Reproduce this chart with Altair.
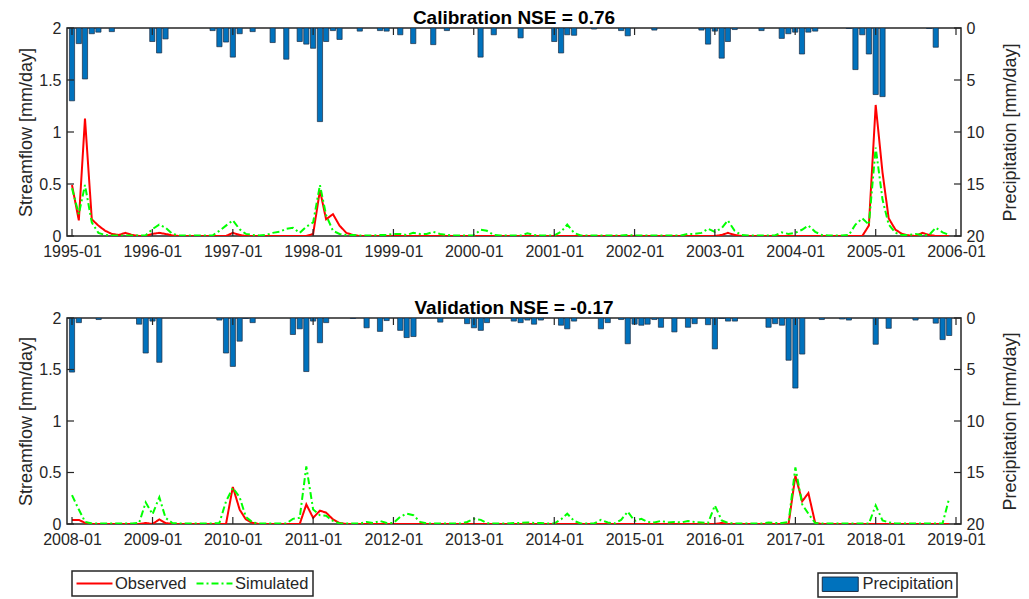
import altair as alt
import pandas as pd

FONT = "Liberation Sans"
TXT = "#262626"

# ---------------- Calibration (1995-01 .. 2005-12), one row per year ----------------
cal_precip = [
    7.0, 1.5, 4.9, 0.55, 0.4, 0, 0.35, 0, 0, 0, 0, 0,
    1.3, 2.4, 1.05, 0, 0, 0, 0, 0, 0, 0.25, 1.8, 1.35,
    2.8, 0.55, 0, 0.35, 0, 0, 1.4, 0, 3.0, 0, 1.3, 1.55,
    1.95, 9.0, 1.3, 0.25, 1.1, 0, 0, 0.3, 0, 0, 0.25, 0.3,
    0, 0.65, 0, 1.5, 0, 0, 1.6, 0, 0.25, 0, 0, 0,
    0, 2.8, 0, 0.65, 0, 0, 0, 0.95, 0, 0, 0, 0,
    1.3, 2.4, 0.65, 0.7, 0, 0, 0.1, 0, 0, 0, 0.25, 0.75,
    0, 0, 0, 0.2, 0, 0, 0, 0, 0, 0, 0.2, 1.55,
    0.3, 2.9, 1.3, 0.15, 0, 0, 0, 0.25, 0, 0, 1.0, 0.55,
    0.4, 2.5, 0.4, 0.3, 0, 0, 0, 0, 0.05, 4.0, 0.65, 2.5,
    6.4, 6.6, 0, 0, 0, 0, 0, 0, 0.05, 1.85, 0, 0,
]
cal_obs = [
    0.49, 0.15, 1.13, 0.16, 0.10, 0.05, 0.02, 0.01, 0.03, 0.01, 0.0, 0.0,
    0.02, 0.03, 0.02, 0.005, 0, 0, 0, 0, 0, 0, 0, 0,
    0.03, 0.01, 0, 0, 0, 0, 0, 0, 0, 0, 0, 0,
    0.02, 0.44, 0.16, 0.21, 0.10, 0.03, 0.01, 0, 0, 0, 0, 0,
    0, 0, 0, 0, 0, 0, 0, 0, 0, 0, 0, 0,
    0, 0, 0, 0, 0, 0, 0, 0, 0, 0, 0, 0,
    0, 0, 0, 0, 0, 0, 0, 0, 0, 0, 0, 0,
    0, 0, 0, 0, 0, 0, 0, 0, 0, 0, 0, 0,
    0, 0.01, 0.03, 0.01, 0, 0, 0, 0, 0, 0, 0, 0,
    0, 0, 0, 0, 0, 0, 0, 0, 0, 0, 0, 0.10,
    1.26, 0.61, 0.17, 0.06, 0.02, 0.005, 0, 0.03, 0.01, 0, 0, 0,
]
cal_sim = [
    0.46, 0.21, 0.49, 0.13, 0.03, 0.01, 0.005, 0.005, 0.005, 0.005, 0.005, 0.005,
    0.065, 0.11, 0.08, 0.02, 0.005, 0.005, 0.005, 0.005, 0.005, 0.005, 0.05, 0.10,
    0.15, 0.065, 0.02, 0.01, 0.005, 0.01, 0.03, 0.04, 0.07, 0.08, 0.03, 0.09,
    0.13, 0.49, 0.20, 0.05, 0.02, 0.01, 0.01, 0.005, 0.005, 0.005, 0.01, 0.01,
    0.02, 0.02, 0.01, 0.03, 0.02, 0.02, 0.04, 0.02, 0.01, 0.005, 0.005, 0.005,
    0.005, 0.06, 0.05, 0.01, 0.005, 0.005, 0.005, 0.005, 0.025, 0.01, 0.005, 0.005,
    0.005, 0.04, 0.11, 0.03, 0.005, 0.005, 0.005, 0.005, 0.005, 0.005, 0.005, 0.01,
    0.005, 0.005, 0.005, 0.005, 0.005, 0.005, 0.005, 0.005, 0.02, 0.02, 0.03, 0.07,
    0.04, 0.075, 0.15, 0.05, 0.01, 0.005, 0.005, 0.005, 0.005, 0.005, 0.035, 0.02,
    0.03, 0.06, 0.10, 0.04, 0.01, 0.005, 0.005, 0.005, 0.01, 0.11, 0.17, 0.11,
    0.85, 0.35, 0.11, 0.03, 0.01, 0.01, 0.02, 0.01, 0.01, 0.08, 0.035, 0.01,
]

# ---------------- Validation (2008-01 .. 2018-12) ----------------
val_precip = [
    5.25, 0.45, 0, 0, 0.15, 0, 0, 0, 0, 0, 0.6, 3.4,
    0.3, 4.3, 0, 0, 0, 0, 0, 0, 0, 0, 0.2, 3.4,
    4.7, 2.25, 0.05, 0.45, 0, 0, 0, 0, 0, 1.6, 1.05, 5.2,
    0.3, 2.4, 0.45, 0, 0, 0, 0.05, 0, 0.95, 0, 1.3, 0.25,
    0, 1.2, 1.9, 1.8, 0, 0, 0, 0.4, 0, 0, 0, 0.55,
    0.95, 1.2, 0.45, 0, 0, 0, 0.3, 0.45, 0.2, 0.6, 0.2, 0,
    0, 0.7, 1.05, 0.3, 0, 0, 0, 1.05, 0.45, 0, 0.15, 2.5,
    0.6, 0.7, 0.6, 0.15, 0.9, 0, 1.35, 0, 0.9, 0.55, 0, 0.65,
    3.0, 0.05, 0.3, 0.3, 0, 0, 0, 0, 0.9, 0.55, 0.7, 4.1,
    6.8, 3.5, 0, 0, 0.15, 0, 0, 0.1, 0.2, 0, 0, 0,
    2.55, 0, 1.0, 0, 0, 0, 0.2, 0, 0, 0.5, 2.1, 1.7,
]
val_obs = [
    0.04, 0.04, 0.01, 0, 0, 0, 0, 0, 0, 0, 0, 0.01,
    0, 0.045, 0.01, 0, 0, 0, 0, 0, 0, 0, 0, 0,
    0.36, 0.14, 0.045, 0.01, 0, 0, 0, 0, 0, 0, 0, 0.19,
    0.06, 0.13, 0.11, 0.045, 0.01, 0, 0, 0, 0, 0, 0, 0,
    0, 0, 0, 0, 0, 0, 0, 0, 0, 0, 0, 0,
    0, 0, 0, 0, 0, 0, 0, 0, 0, 0, 0, 0,
    0, 0, 0, 0, 0, 0, 0, 0, 0, 0, 0, 0,
    0, 0, 0, 0, 0, 0, 0, 0, 0, 0, 0, 0,
    0, 0.01, 0, 0, 0, 0, 0, 0, 0, 0, 0, 0,
    0.47, 0.22, 0.30, 0.01, 0, 0, 0, 0, 0, 0, 0, 0,
    0, 0, 0, 0, 0, 0, 0, 0, 0, 0, 0, 0,
]
val_sim = [
    0.28, 0.14, 0.02, 0.005, 0.005, 0.005, 0.005, 0.005, 0.005, 0.005, 0.01, 0.21,
    0.095, 0.26, 0.06, 0.01, 0.005, 0.005, 0.005, 0.005, 0.005, 0.005, 0.01, 0.22,
    0.35, 0.26, 0.07, 0.015, 0.005, 0.005, 0.005, 0.005, 0.005, 0.05, 0.06, 0.56,
    0.14, 0.085, 0.08, 0.03, 0.005, 0.005, 0.005, 0.005, 0.02, 0.01, 0.03, 0.01,
    0.01, 0.07, 0.10, 0.085, 0.02, 0.005, 0.005, 0.005, 0.005, 0.005, 0.005, 0.02,
    0.05, 0.04, 0.007, 0.005, 0.005, 0.005, 0.01, 0.01, 0.015, 0.01, 0.01, 0.005,
    0.005, 0.045, 0.10, 0.03, 0.005, 0.005, 0.005, 0.04, 0.015, 0.005, 0.04, 0.12,
    0.03, 0.05, 0.02, 0.015, 0.03, 0.015, 0.02, 0.015, 0.03, 0.02, 0.015, 0.01,
    0.18, 0.035, 0.01, 0.005, 0.005, 0.005, 0.005, 0.005, 0.015, 0.01, 0.01, 0.02,
    0.55, 0.19, 0.10, 0.01, 0.005, 0.005, 0.005, 0.005, 0.005, 0.005, 0.005, 0.005,
    0.18, 0.035, 0.015, 0.005, 0.005, 0.005, 0.005, 0.005, 0.005, 0.005, 0.005, 0.25,
]

series_names = ["Observed", "Simulated"]
series_colors = ["#FF0000", "#00FF00"]
series_dash = [[1, 0], [7, 3, 2, 3]]
flow_ticks = [0, 0.5, 1, 1.5, 2]
precip_ticks = [0, 5, 10, 15, 20]

W = 894
TICK = 7
SYM = 207  # legend symbol size -> unit radius 7.2 px


def month_strings(y0, n):
    out = []
    for i in range(n):
        y = y0 + i // 12
        m = i % 12 + 1
        out.append(f"{y}-{m:02d}-01")
    return out


def line_legend():
    return alt.Legend(title=None, orient="none", legendX=5, legendY=543,
                      direction="horizontal", symbolType="M-2.5,0H2.5",
                      symbolSize=SYM, symbolStrokeWidth=2, symbolOffset=10,
                      labelFontSize=16.5, labelOffset=12, columnPadding=5,
                      padding=4, strokeColor=TXT, fillColor="white")


def panel(y0, y1, obs, sim, prec, title, H):
    dates = month_strings(y0, len(obs))
    years = list(range(y0, y1 + 1))
    xdom = [alt.DateTime(year=y0, month=1, date=1, utc=True),
            alt.DateTime(year=y1, month=1, date=1, utc=True)]
    xvals = [alt.DateTime(year=y, month=1, date=1, utc=True) for y in years]
    xscale = alt.Scale(type="utc", domain=xdom)

    def xenc():
        return alt.X("date:T", scale=xscale, title=None,
                     axis=alt.Axis(values=xvals, labelExpr="utcFormat(datum.value, '%Y-%m')",
                                   labelPadding=7))

    lines_df = pd.DataFrame({
        "date": dates * 2,
        "flow": list(obs) + list(sim),
        "series": ["Observed"] * len(obs) + ["Simulated"] * len(sim),
    })
    bars_df = pd.DataFrame({"date": dates, "precip": prec, "kind": "Precipitation"})
    bars_df = bars_df[bars_df["precip"] > 0]
    xt_df = pd.DataFrame({"date": [f"{y}-01-01" for y in years]})
    yl_df = pd.DataFrame({"v": flow_ticks})
    yr_df = pd.DataFrame({"v": precip_ticks})

    bars = alt.Chart(bars_df).mark_bar(
        size=5.2, stroke="#1b2d44", strokeWidth=0.7, clip=True
    ).encode(
        x=xenc(),
        y=alt.Y("precip:Q", scale=alt.Scale(domain=[0, 20], reverse=True, nice=False),
                axis=alt.Axis(orient="right", values=precip_ticks, title="Precipitation [mm/day]",
                              titleAngle=270, titleBaseline="top", titlePadding=18,
                              labelPadding=5)),
        fill=alt.Fill("kind:N", scale=alt.Scale(domain=["Precipitation"], range=["#0072BD"]),
                      legend=alt.Legend(title=None, orient="none", legendX=751, legendY=545,
                                        symbolType="M-2.5,-1H2.5V1H-2.5Z", symbolSize=SYM,
                                        symbolOffset=11,
                                        symbolStrokeColor="#1b2d44", symbolStrokeWidth=1,
                                        labelFontSize=16.5, labelOffset=14, padding=3,
                                        strokeColor=TXT, fillColor="white")),
    )

    lines = alt.Chart(lines_df).mark_line(strokeWidth=2, clip=True).encode(
        x=xenc(),
        y=alt.Y("flow:Q", scale=alt.Scale(domain=[0, 2], nice=False),
                axis=alt.Axis(orient="left", values=flow_ticks, format="~g",
                              title="Streamflow [mm/day]", titlePadding=3, labelPadding=6)),
        color=alt.Color("series:N", scale=alt.Scale(domain=series_names, range=series_colors),
                        legend=line_legend()),
        strokeDash=alt.StrokeDash("series:N", scale=alt.Scale(domain=series_names, range=series_dash),
                                  legend=line_legend()),
        order=alt.Order("series:N"),
    )

    xt_bot = alt.Chart(xt_df).mark_rule(color=TXT, strokeWidth=1.2).encode(
        x=xenc(), y=alt.value(H), y2=alt.value(H - TICK))
    xt_top = alt.Chart(xt_df).mark_rule(color=TXT, strokeWidth=1.2).encode(
        x=xenc(), y=alt.value(0), y2=alt.value(TICK))
    yt_left = alt.Chart(yl_df).mark_rule(color=TXT, strokeWidth=1.2).encode(
        y=alt.Y("v:Q", scale=alt.Scale(domain=[0, 2], nice=False), axis=None),
        x=alt.value(0), x2=alt.value(TICK))
    yt_right = alt.Chart(yr_df).mark_rule(color=TXT, strokeWidth=1.2).encode(
        y=alt.Y("v:Q", scale=alt.Scale(domain=[0, 20], reverse=True, nice=False), axis=None),
        x=alt.value(W - TICK), x2=alt.value(W))

    return alt.layer(bars, lines, xt_bot, xt_top, yt_left, yt_right).resolve_scale(
        y="independent"
    ).properties(
        width=W, height=H,
        title=alt.TitleParams(title, fontSize=19, fontWeight="bold", font=FONT,
                              color="#000000", offset=-8, frame="group"),
    )


top = panel(1995, 2006, cal_obs, cal_sim, cal_precip, "Calibration NSE = 0.76", 208)
bottom = panel(2008, 2019, val_obs, val_sim, val_precip, "Validation NSE = -0.17", 206)

chart = alt.vconcat(top, bottom, spacing=38).resolve_scale(x="independent").properties(
    padding={"left": 9, "top": 0, "right": 0, "bottom": 0}
).configure_view(
    stroke=TXT, strokeWidth=1.5
).configure_axis(
    grid=False, domain=False, ticks=False,
    labelFont=FONT, titleFont=FONT, labelColor=TXT, titleColor=TXT,
    labelFontSize=16, titleFontSize=18, titleFontWeight="normal",
).configure_legend(
    labelFont=FONT, labelColor=TXT, strokeWidth=1.5
)

chart.save("out.html", embed_options={"renderer": "svg", "actions": False})
